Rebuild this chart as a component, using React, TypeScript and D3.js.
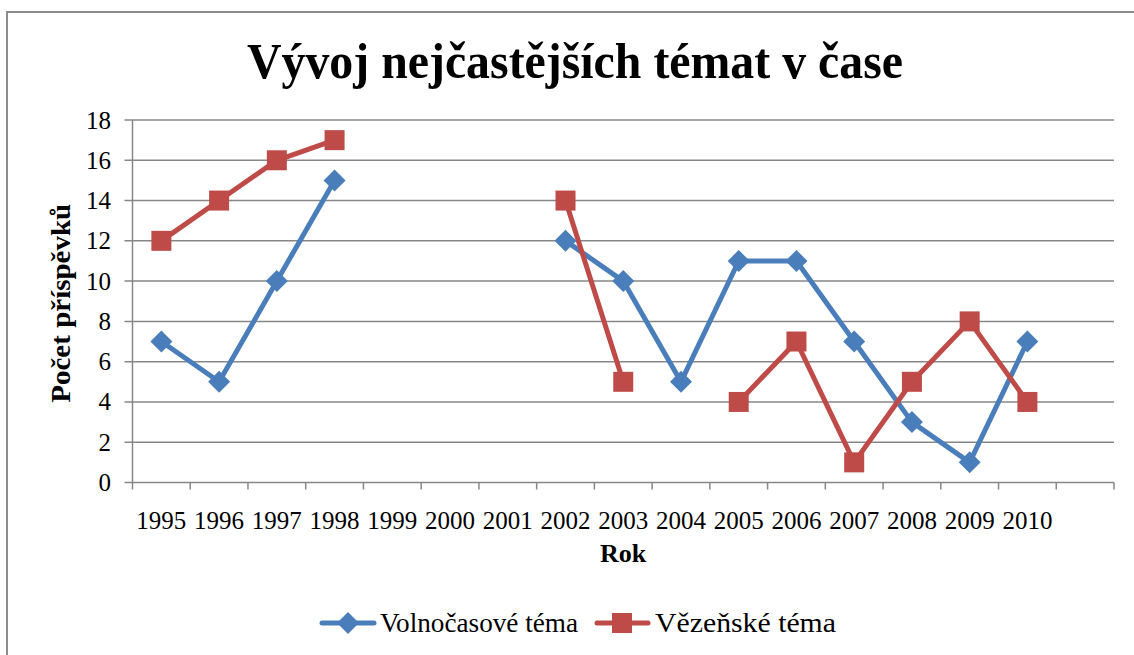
import React from "react";
import * as d3 from "d3";

const years = ["1995","1996","1997","1998","1999","2000","2001","2002","2003","2004","2005","2006","2007","2008","2009","2010",""];
const volnocasove: (number | null)[] = [7,5,10,15,null,null,null,12,10,5,11,11,7,3,1,7,null];
const vezenske: (number | null)[] = [12,14,16,17,null,null,null,14,5,null,4,7,1,5,8,4,null];
const yTicks = [0,2,4,6,8,10,12,14,16,18];

const W = 1134, H = 655;
const L = 132.5, R = 1114, T = 120, B = 482.5;
const BLUE = "#4A7EBB", RED = "#BE4B48", GRID = "#878787";
const FONT = "'Liberation Serif', 'Times New Roman', serif";

export default function App() {
  const x = d3.scaleBand<string>().domain(years.map((_, i) => String(i))).range([L, R]).padding(0);
  const cx = (i: number) => (x(String(i)) as number) + x.bandwidth() / 2;
  const y = d3.scaleLinear().domain([0, 18]).range([B, T]);
  const line = d3.line<number | null>()
    .defined(d => d !== null)
    .x((_, i) => cx(i))
    .y(d => y(d as number));

  const diamond = (px: number, py: number, s: number) =>
    `M${px},${py - s}L${px + s},${py}L${px},${py + s}L${px - s},${py}Z`;

  return (
    <svg width={W} height={H} style={{ position: "absolute", left: 0, top: 0, background: "#fff" }}>
      <rect x={0} y={0} width={W} height={H} fill="#fff" />
      <path d={`M7,${H}L7,12L${W},12`} fill="none" stroke="#8c8c8c" strokeWidth={2} />
      <text x={575} y={78} textAnchor="middle" fontFamily={FONT} fontWeight="bold" fontSize={50} textLength={656} lengthAdjust="spacingAndGlyphs">Vývoj nejčastějších témat v čase</text>

      {yTicks.map(t => (
        <line key={t} x1={L - 8} x2={R} y1={y(t)} y2={y(t)} stroke={GRID} strokeWidth={1.5} />
      ))}
      <line x1={L} x2={L} y1={T} y2={B + 7} stroke={GRID} strokeWidth={1.5} />
      {years.map((_, i) => (
        <line key={i} x1={(x(String(i)) as number) + x.bandwidth()} x2={(x(String(i)) as number) + x.bandwidth()} y1={B} y2={B + 7} stroke={GRID} strokeWidth={1.5} />
      ))}
      {yTicks.map(t => (
        <text key={t} x={111} y={y(t) + 8.5} textAnchor="end" fontFamily={FONT} fontSize={25}>{t}</text>
      ))}
      {years.map((yr, i) => (
        <text key={i} x={cx(i)} y={529} textAnchor="middle" fontFamily={FONT} fontSize={25}>{yr}</text>
      ))}
      <text x={623} y={562} textAnchor="middle" fontFamily={FONT} fontWeight="bold" fontSize={26}>Rok</text>
      <text transform={`translate(70,${(T + B) / 2 + 2}) rotate(-90)`} textAnchor="middle" fontFamily={FONT} fontWeight="bold" fontSize={27} textLength={199} lengthAdjust="spacingAndGlyphs">Počet příspěvků</text>

      <path d={line(volnocasove) || ""} fill="none" stroke={BLUE} strokeWidth={5} strokeLinejoin="round" />
      <path d={line(vezenske) || ""} fill="none" stroke={RED} strokeWidth={5} strokeLinejoin="round" />
      {volnocasove.map((v, i) => v === null ? null : (
        <path key={i} d={diamond(cx(i), y(v), 11)} fill={BLUE} />
      ))}
      {vezenske.map((v, i) => v === null ? null : (
        <rect key={i} x={cx(i) - 10} y={y(v) - 10} width={20} height={20} fill={RED} />
      ))}

      <line x1={322} x2={374} y1={623} y2={623} stroke={BLUE} strokeWidth={5} strokeLinecap="round" />
      <path d={diamond(348, 623, 11)} fill={BLUE} />
      <text x={380} y={632} fontFamily={FONT} fontSize={27} textLength={198} lengthAdjust="spacingAndGlyphs">Volnočasové téma</text>
      <line x1={597} x2={648} y1={623} y2={623} stroke={RED} strokeWidth={5} strokeLinecap="round" />
      <rect x={612} y={613} width={20} height={20} fill={RED} />
      <text x={655} y={632} fontFamily={FONT} fontSize={27} textLength={181} lengthAdjust="spacingAndGlyphs">Vězeňské téma</text>
    </svg>
  );
}
